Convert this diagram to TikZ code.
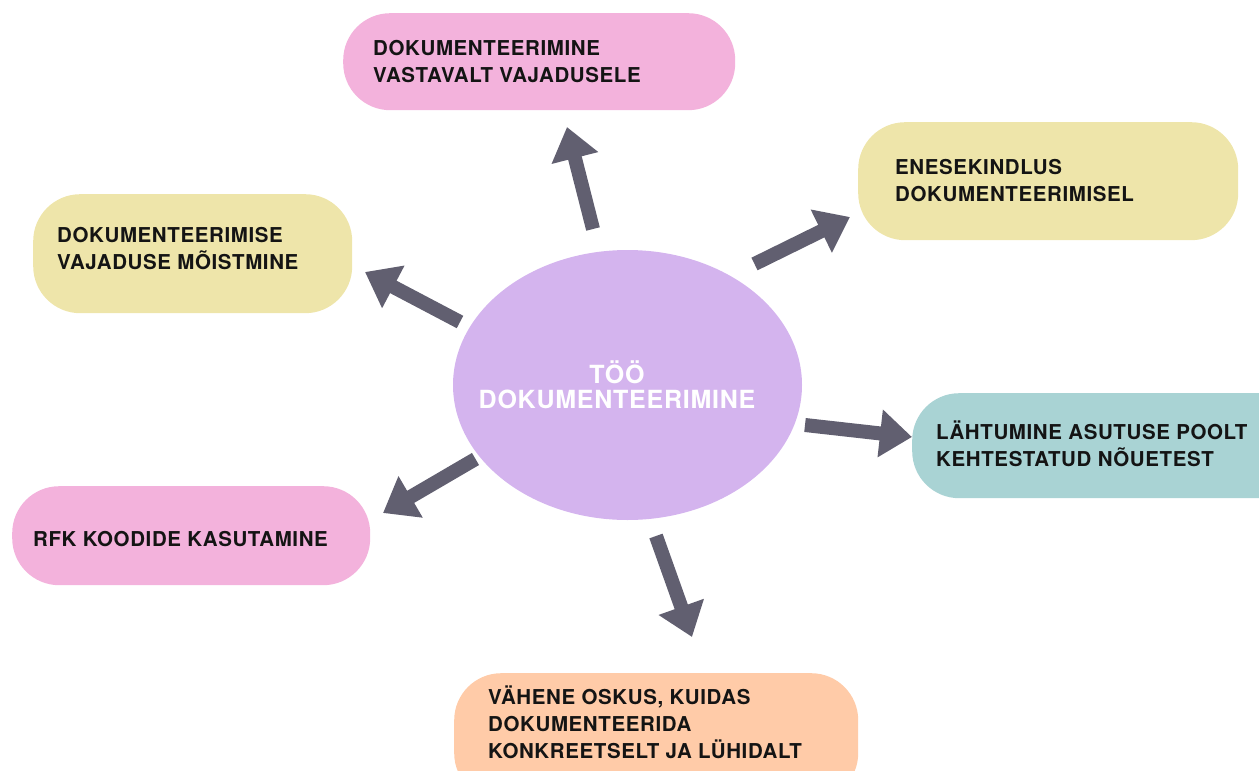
\documentclass[tikz,border=0pt]{standalone}
\usepackage{fontspec}
\usetikzlibrary{shapes.geometric,arrows.meta}
\newfontfamily\boxfont[LetterSpace=3]{TeX Gyre Heros}
\newfontfamily\centfont[LetterSpace=3]{TeX Gyre Heros}
\definecolor{cpink}{RGB}{243,178,220}
\definecolor{cyellow}{RGB}{238,229,170}
\definecolor{cpurple}{RGB}{212,180,238}
\definecolor{cteal}{RGB}{169,211,212}
\definecolor{cpeach}{RGB}{255,203,168}
\definecolor{carrow}{RGB}{97,95,112}
\definecolor{ctext}{RGB}{20,20,20}
\begin{document}
\begin{tikzpicture}[x=1pt,y=-1pt,
  pill/.style={rectangle,rounded corners=47pt,inner sep=0pt,anchor=north west,draw=none},
  boxtext/.style={anchor=west,inner sep=0pt,align=left,text=ctext,
    font=\boxfont\bfseries\fontsize{20.5}{27}\selectfont},
  arr/.style={draw=carrow,line width=14pt,-{Triangle[length=32pt,width=46pt]}}]
\path[use as bounding box] (0,0) rectangle (1259,771);
\clip (0,0) rectangle (1259,771);
% boxes
\node[pill,fill=cpink,minimum width=392pt,minimum height=97pt] (btop) at (343,13) {};
\node[pill,fill=cyellow,minimum width=380pt,minimum height=118pt] (bry) at (858,122) {};
\node[pill,fill=cyellow,minimum width=319pt,minimum height=119pt] (bly) at (33,194) {};
\node[pill,fill=cteal,minimum width=400pt,minimum height=105pt] (bteal) at (912,393) {};
\node[pill,fill=cpink,minimum width=358pt,minimum height=99pt] (blp) at (12,486) {};
\node[pill,fill=cpeach,minimum width=404pt,minimum height=127pt] (bpeach) at (454,673) {};
% centre
\node[ellipse,fill=cpurple,inner sep=0pt,minimum width=349pt,minimum height=270pt] (c) at (627.5,385) {};
\node[align=center,inner sep=0pt,text=white,font=\centfont\bfseries\fontsize{25}{25}\selectfont] (ct) at (617,385) {TÖÖ\\DOKUMENTEERIMINE};
% texts
\node[boxtext] (ttop) at (373,62) {DOKUMENTEERIMINE\\VASTAVALT VAJADUSELE};
\node[boxtext] (try) at (895,181) {ENESEKINDLUS\\DOKUMENTEERIMISEL};
\node[boxtext] (tly) at (57,249) {DOKUMENTEERIMISE\\VAJADUSE MÕISTMINE};
\node[boxtext] (tteal) at (936,444) {LÄHTUMINE ASUTUSE POOLT\\KEHTESTATUD NÕUETEST};
\node[boxtext] (tlp) at (33,539.5) {RFK KOODIDE KASUTAMINE};
\node[boxtext] (tpeach) at (488,722) {VÄHENE OSKUS, KUIDAS\\DOKUMENTEERIDA\\KONKREETSELT JA LÜHIDALT};
% arrow ends
\coordinate (a1s) at (593,229);   \coordinate (a1e) at (567,127);
\coordinate (a2s) at (754.5,264); \coordinate (a2e) at (850,217);
\coordinate (a3s) at (460,322);   \coordinate (a3e) at (365,272);
\coordinate (a4s) at (805,425);   \coordinate (a4e) at (912,437);
\coordinate (a5s) at (475.5,459); \coordinate (a5e) at (383,513);
\coordinate (a6s) at (656,536);   \coordinate (a6e) at (692,637);
\draw[arr] (a1s) -- (a1e);
\draw[arr] (a2s) -- (a2e);
\draw[arr] (a3s) -- (a3e);
\draw[arr] (a4s) -- (a4e);
\draw[arr] (a5s) -- (a5e);
\draw[arr] (a6s) -- (a6e);
\end{tikzpicture}
\end{document}
